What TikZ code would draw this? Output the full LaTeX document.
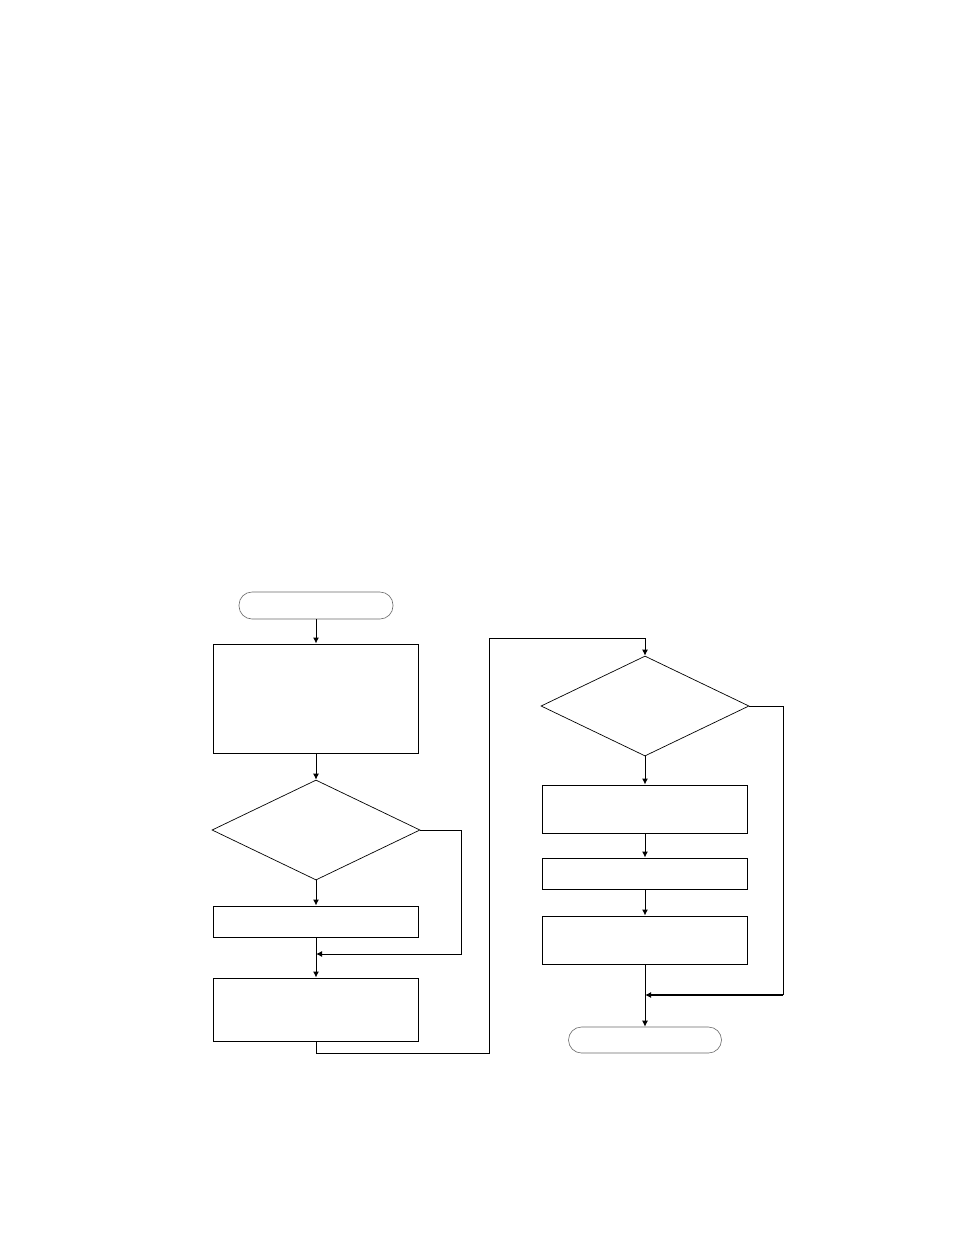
\documentclass[tikz,border=0pt]{standalone}
\usepackage[svgnames, dvipsnames]{xcolor}
\usetikzlibrary{calc, shapes.geometric, arrows.meta}
\tikzset{>={Latex[length=6pt,width=6pt]}}

\begin{document}
\begin{tikzpicture}[x=1pt, y=-1pt, line width=1pt,
  term/.style={draw=DimGray, line width=0.6pt, rounded corners=13pt, minimum width=154pt, minimum height=27pt, inner sep=0pt},
  proc/.style={draw, minimum width=205pt, inner sep=0pt},
  decide/.style={draw, diamond, line width=0.7pt, minimum width=208pt, minimum height=100pt, inner sep=0pt}]
\useasboundingbox (0,0) rectangle (954,1235);
\node[term] (start) at (316,605.5) {};
\node[proc, minimum height=109pt] (init) at (316,698.5) {};
\node[decide] (testa) at (316,830) {};
\node[proc, minimum height=31pt] (stepa) at (316,921.5) {};
\node[proc, minimum height=63pt] (stepb) at (316,1009.5) {};
\node[decide] (testb) at (645,706) {};
\node[proc, minimum height=48pt] (stepc) at (645,809) {};
\node[proc, minimum height=31pt] (stepd) at (645,873.5) {};
\node[proc, minimum height=48pt] (stepe) at (645,940) {};
\node[term, minimum width=153pt, minimum height=26pt] (stop) at (645,1040) {};
\coordinate (joina) at (316,954);
\coordinate (joinb) at (645,995);
\coordinate (bypassa) at (461,954);
\coordinate (bypassb) at (783,995);
\coordinate (low) at (489,1053);
\coordinate (high) at (489,638);
\draw[->] (start) -- (init);
\draw[->] (init) -- (testa);
\draw[->] (testa) -- (stepa);
\draw[->] (stepa) -- (stepb);
\draw[->] (testa.east) -| (bypassa) -- (joina);
\draw[->] (stepb.south) |- (low) -- (high) -| (testb.north);
\draw[->] (testb) -- (stepc);
\draw[->] (stepc) -- (stepd);
\draw[->] (stepd) -- (stepe);
\draw[->] (stepe) -- (stop);
\draw (testb.east) -| (bypassb);
\draw[->, line width=1.8pt] (bypassb) -- (joinb);
\end{tikzpicture}
\end{document}
